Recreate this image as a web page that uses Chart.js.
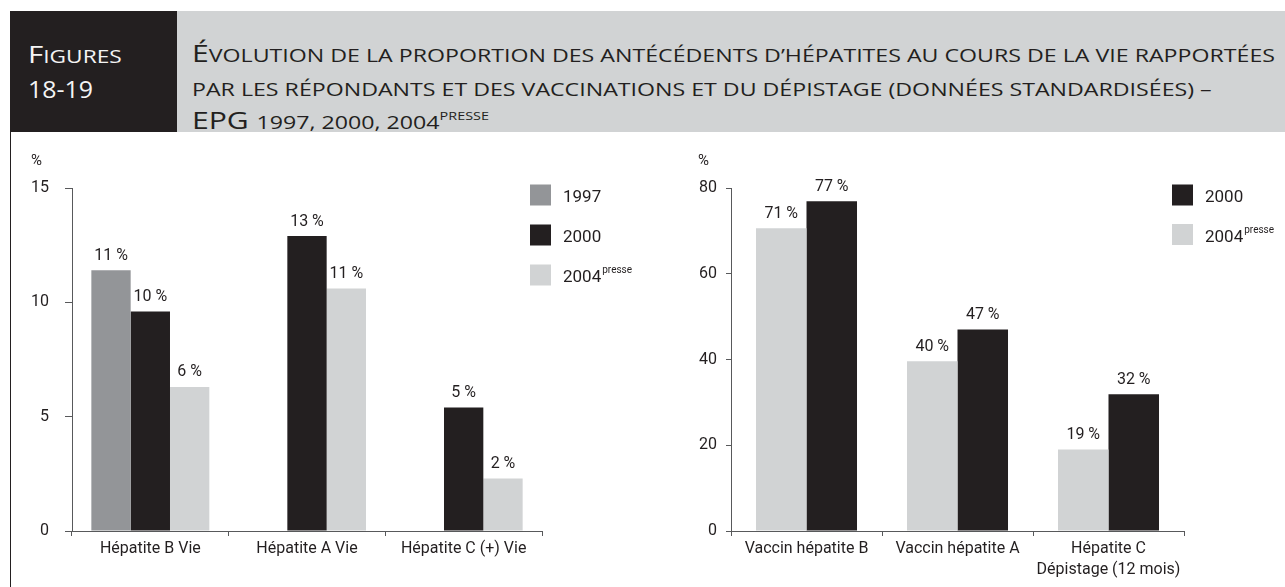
<!DOCTYPE html>
<html><head><meta charset="utf-8">
<script src="https://cdn.jsdelivr.net/npm/chart.js@4.4.1/dist/chart.umd.min.js"></script>
<style>
html,body{margin:0;padding:0;background:#fff;}
body{width:1285px;height:587px;position:relative;overflow:hidden;}
#fig{position:absolute;left:10px;top:11px;width:167px;height:121px;background:#231f20;}
#band{position:absolute;left:177px;top:11px;width:1108px;height:121px;background:#d1d3d4;}
.hd{position:absolute;font-family:'Open Sans',Lato,sans-serif;white-space:nowrap;line-height:31.5px;font-size:23px;}
.ln{width:max-content;transform-origin:0 0;}
.s{text-transform:uppercase;font-size:0.77em;}
.sup{text-transform:uppercase;font-size:11px;position:relative;top:-9px;}
#figt{left:28px;top:38px;color:#f4f4f4;line-height:33px;}
#title{left:192px;top:38px;color:#231f20;}
#leftline{position:absolute;left:10px;top:132px;width:1px;height:455px;background:#231f20;}
#c1{position:absolute;left:12px;top:132px;}
#c2{position:absolute;left:640px;top:132px;}
</style></head>
<body>
<div id="fig"></div>
<div id="band"></div>
<div id="figt" class="hd"><div id="figl1" class="ln">F<span class="s">igures</span></div><div id="figl2" class="ln">18-19</div></div>
<div id="title" class="hd">
<div id="tl1" class="ln">É<span class="s">volution de la proportion des antécédents d’hépatites au cours de la vie rapportées</span></div>
<div id="tl2" class="ln"><span class="s">par les répondants et des vaccinations et du dépistage (données standardisées) –</span></div>
<div id="tl3" class="ln">EPG <span class="s">1997, 2000, 2004</span><span class="sup">presse</span></div>
</div>
<div id="leftline"></div>
<canvas id="c1" width="620" height="455"></canvas>
<canvas id="c2" width="645" height="455"></canvas>
<script>
// ---------- data ----------
const leftCategories = ['Hépatite B Vie', 'Hépatite A Vie', 'Hépatite C (+) Vie'];
const left1997 = [11.4, null, null];
const left2000 = [9.6, 12.9, 5.4];
const left2004 = [6.3, 10.6, 2.3];
const leftTicks = [0, 5, 10, 15];

const rightCategories = [['Vaccin hépatite B'], ['Vaccin hépatite A'], ['Hépatite C', 'Dépistage (12 mois)']];
const right2004 = [70.6, 39.6, 19.0];
const right2000 = [76.9, 47.0, 31.9];
const rightTicks = [0, 20, 40, 60, 80];

const seriesNames = ['1997', '2000', '2004'];
const supText = 'presse';
const unitLabel = '%';

// ---------- styles ----------
const TEXT = '#231f20';
const AXIS = '#58595b';
const C1997 = '#939598', C2000 = '#231f20', C2004 = '#d1d3d4';
const FONT = "Roboto, 'Open Sans', sans-serif";
const FS = 16;

// fit header lines horizontally
(function(){
  const id = s => document.getElementById(s);
  const sc = 1083 / id('tl1').getBoundingClientRect().width;
  ['tl1','tl2','tl3'].forEach(k => id(k).style.transform = 'scaleX(' + sc + ')');
  const s1 = 93.7 / id('figl1').getBoundingClientRect().width;
  id('figl1').style.transform = 'scaleX(' + s1 + ')';
  const s2 = 65 / id('figl2').getBoundingClientRect().width;
  id('figl2').style.transform = 'scaleX(' + s2 + ')';
})();

Chart.defaults.font.family = FONT;
Chart.defaults.font.size = FS;
Chart.defaults.color = TEXT;

const legendPlugin = {
  id: 'customLegend',
  afterDraw(chart, args, opts) {
    const ctx = chart.ctx, ca = chart.chartArea;
    ctx.save();
    opts.order.forEach((di, i) => {
      const ds = chart.data.datasets[di];
      const x = ca.right + opts.dx, y = ca.top + opts.dy + i * opts.gap;
      ctx.fillStyle = ds.backgroundColor;
      ctx.fillRect(x, y, 21, 21);
      ctx.fillStyle = TEXT;
      ctx.font = '17px ' + FONT;
      ctx.textAlign = 'left';
      ctx.textBaseline = 'alphabetic';
      ctx.fillText(ds.label, x + 33, y + 17.5);
      if (ds.sup) {
        const w = ctx.measureText(ds.label).width;
        ctx.font = '10px ' + FONT;
        ctx.fillText(ds.sup, x + 33 + w + 1, y + 8.5);
      }
    });
    ctx.restore();
  }
};

const unitPlugin = {
  id: 'unitLabel',
  afterDraw(chart, args, opts) {
    const ctx = chart.ctx, ca = chart.chartArea;
    ctx.save();
    ctx.fillStyle = TEXT;
    ctx.font = '15px ' + FONT;
    ctx.textAlign = 'left';
    ctx.textBaseline = 'alphabetic';
    ctx.fillText(unitLabel, ca.left + opts.dx, ca.top - 23);
    ctx.restore();
  }
};

const valuePlugin = {
  id: 'valueLabels',
  afterDatasetsDraw(chart) {
    const ctx = chart.ctx;
    ctx.save();
    ctx.fillStyle = TEXT;
    ctx.font = FS + 'px ' + FONT;
    ctx.textAlign = 'center';
    ctx.textBaseline = 'alphabetic';
    chart.data.datasets.forEach((ds, di) => {
      const meta = chart.getDatasetMeta(di);
      meta.data.forEach((el, i) => {
        const v = ds.data[i];
        if (v === null || v === undefined) return;
        ctx.fillText(Math.round(v) + ' %', el.x, el.y - 10.5);
      });
    });
    ctx.restore();
  }
};

function makeOptions(o) {
  return {
    responsive: false, animation: false, devicePixelRatio: 1,
    layout: { padding: { left: 0, right: o.padRight, top: 56, bottom: 0 } },
    datasets: { bar: { categoryPercentage: o.catPct, barPercentage: 1, borderWidth: 0 } },
    plugins: {
      legend: { display: false }, tooltip: { enabled: false },
      customLegend: { order: o.order, dx: -12, dy: -3.5, gap: o.gap },
      unitLabel: { dx: o.unitDx }
    },
    scales: {
      x: {
        grid: { drawOnChartArea: false, tickLength: 5, color: AXIS, offset: true, lineWidth: 1 },
        border: { display: true, color: AXIS, width: 1 },
        ticks: { padding: 2, color: TEXT, maxRotation: 0, autoSkip: false, font: { size: FS, lineHeight: 1.35 } },
        afterFit(s) { s.height = 56; }
      },
      y: {
        min: 0, max: o.max,
        afterBuildTicks(s) { s.ticks = o.ticks.map(v => ({ value: v })); },
        grid: { drawOnChartArea: false, tickLength: o.tickLen, color: AXIS, lineWidth: 1 },
        border: { display: true, color: AXIS, width: 1 },
        ticks: { padding: o.tickPad, color: TEXT, font: { size: FS } },
        afterFit(s) { s.width = o.yWidth; }
      }
    }
  };
}

new Chart(document.getElementById('c1'), {
  type: 'bar',
  data: {
    labels: leftCategories,
    datasets: [
      { label: seriesNames[0], data: left1997, backgroundColor: C1997 },
      { label: seriesNames[1], data: left2000, backgroundColor: C2000 },
      { label: seriesNames[2], data: left2004, backgroundColor: C2004, sup: supText }
    ]
  },
  options: makeOptions({ padRight: 90, catPct: 0.753, order: [0, 1, 2], gap: 40, unitDx: -41, max: 15, ticks: leftTicks, tickLen: 7, tickPad: 16, yWidth: 60 }),
  plugins: [legendPlugin, unitPlugin, valuePlugin]
});

new Chart(document.getElementById('c2'), {
  type: 'bar',
  data: {
    labels: rightCategories,
    datasets: [
      { label: seriesNames[2], data: right2004, backgroundColor: C2004, sup: supText },
      { label: seriesNames[1], data: right2000, backgroundColor: C2000 }
    ]
  },
  options: makeOptions({ padRight: 101, catPct: 0.669, order: [1, 0], gap: 39.5, unitDx: -33, max: 80, ticks: rightTicks, tickLen: 5, tickPad: 9, yWidth: 91 }),
  plugins: [legendPlugin, unitPlugin, valuePlugin]
});
</script>
</body></html>
